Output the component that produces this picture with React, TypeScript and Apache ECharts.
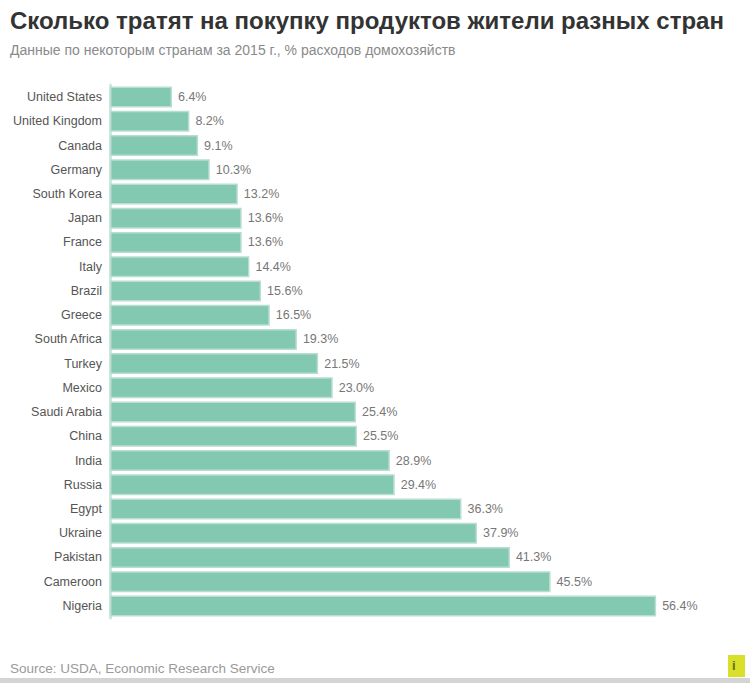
import React, { useEffect, useRef } from "react";
import * as echarts from "echarts";

const countries = [
  "United States",
  "United Kingdom",
  "Canada",
  "Germany",
  "South Korea",
  "Japan",
  "France",
  "Italy",
  "Brazil",
  "Greece",
  "South Africa",
  "Turkey",
  "Mexico",
  "Saudi Arabia",
  "China",
  "India",
  "Russia",
  "Egypt",
  "Ukraine",
  "Pakistan",
  "Cameroon",
  "Nigeria",
];

const shares = [
  6.4, 8.2, 9.1, 10.3, 13.2, 13.6, 13.6, 14.4, 15.6, 16.5, 19.3, 21.5, 23.0,
  25.4, 25.5, 28.9, 29.4, 36.3, 37.9, 41.3, 45.5, 56.4,
];

const titleText = "Сколько тратят на покупку продуктов жители разных стран";
const subtitleText = "Данные по некоторым странам за 2015 г., % расходов домохозяйств";
const sourceText = "Source: USDA, Economic Research Service";

export default function App() {
  const ref = useRef<HTMLDivElement>(null);
  useEffect(() => {
    if (!ref.current) return;
    const chart = echarts.init(ref.current, undefined, { renderer: "svg" });
    const font = "Liberation Sans, Arial, sans-serif";
    chart.setOption({
      animation: false,
      backgroundColor: "#ffffff",
      textStyle: { fontFamily: font },
      title: [
        {
          text: titleText,
          left: 5,
          top: 3,
          textStyle: { fontSize: 24, fontWeight: "bold", color: "#333333", fontFamily: font },
        },
        {
          text: subtitleText,
          left: 5,
          top: 38,
          textStyle: { fontSize: 14, fontWeight: "normal", color: "#8a8a8a", fontFamily: font },
        },
        {
          text: sourceText,
          left: 5,
          top: 656,
          textStyle: { fontSize: 13.5, fontWeight: "normal", color: "#9a9a9a", fontFamily: font },
        },
      ],
      grid: { left: 110, right: 59, top: 85, bottom: 65, containLabel: false },
      xAxis: {
        type: "value",
        min: 0,
        max: 60,
        show: false,
      },
      yAxis: {
        type: "category",
        data: countries,
        inverse: true,
        axisLine: { show: true, lineStyle: { color: "#cfe8df", width: 3 } },
        axisTick: { show: false },
        axisLabel: { color: "#555555", fontSize: 12.5, margin: 8, fontFamily: font },
      },
      series: [
        {
          type: "bar",
          data: shares,
          barWidth: 21,
          itemStyle: { color: "#83c8b0", borderColor: "#b9ddd0", borderWidth: 1.5 },
          label: {
            show: true,
            position: "right",
            distance: 6,
            color: "#777777",
            fontSize: 12.5,
            fontFamily: font,
            formatter: (p: any) => p.value.toFixed(1) + "%",
          },
        },
      ],
      graphic: [
        {
          type: "rect",
          left: 0,
          top: 678,
          shape: { width: 750, height: 5 },
          style: { fill: "#d4d4d4" },
        },
        {
          type: "rect",
          left: 728,
          top: 655,
          shape: { width: 17, height: 22 },
          style: { fill: "#d8e02a" },
        },
        {
          type: "text",
          left: 732,
          top: 659,
          style: { text: "i", fill: "#6b6b1a", fontSize: 13, fontWeight: "bold", fontFamily: font },
        },
      ],
    });
    return () => chart.dispose();
  }, []);
  return (
    <div
      ref={ref}
      style={{ position: "fixed", left: 0, top: 0, width: 750, height: 683 }}
    />
  );
}
